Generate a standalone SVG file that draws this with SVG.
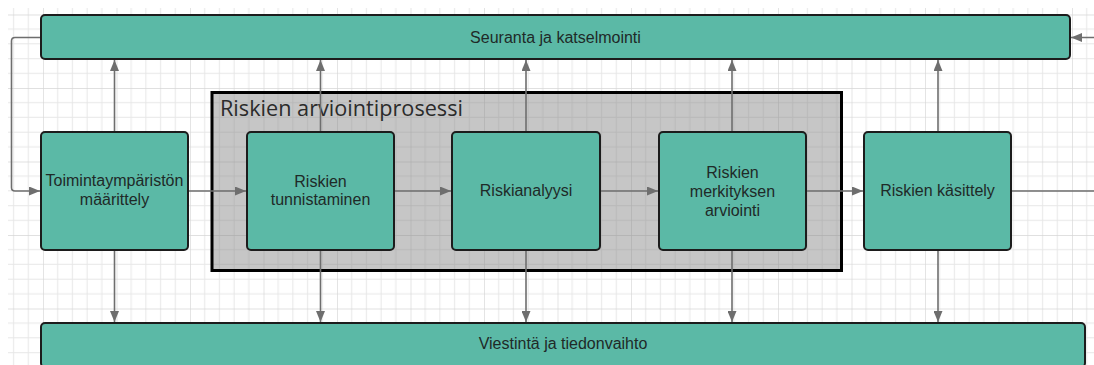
<svg xmlns="http://www.w3.org/2000/svg" width="1094" height="365" viewBox="0 0 1094 365">
  <style>
    .box { fill: #5bb9a6; stroke: #1c1c1c; stroke-width: 2; }
    .lbl { font-family: "Liberation Sans", Arial, sans-serif; font-size: 16px; fill: #1f2a28; text-anchor: middle; }
    .conn { fill: none; stroke: #6e6e6e; stroke-width: 1.6; }
    .minor { stroke: #e7e7e7; stroke-width: 1; }
    .major { stroke: #d6d6d6; stroke-width: 1.3; }
  </style>
  <defs>
    <pattern id="grid" x="190" y="88" width="73.5" height="73.5" patternUnits="userSpaceOnUse">
      <path class="minor" d="M14.7 0V73.5M29.4 0V73.5M44.1 0V73.5M58.8 0V73.5M0 14.7H73.5M0 29.4H73.5M0 44.1H73.5M0 58.8H73.5"/>
      <path class="major" d="M0 0V73.5M0 0H73.5"/>
    </pattern>
    <marker id="arr" markerUnits="userSpaceOnUse" markerWidth="11" markerHeight="9" refX="11" refY="4.5" orient="auto">
      <path d="M0 0L11 4.5L0 9z" fill="#6e6e6e"/>
    </marker>
  </defs>
  <rect width="1094" height="365" fill="#ffffff"/>
  <rect x="8" y="8" width="1086" height="357" fill="url(#grid)"/>

  <g id="process">
    <rect x="212" y="92.5" width="629.5" height="178" fill="#808080" fill-opacity="0.45" stroke="#000" stroke-width="3"/>
    <text x="220" y="116" font-family="'Open Sans', 'Noto Sans', sans-serif" font-size="21" textLength="243" lengthAdjust="spacingAndGlyphs" fill="#2b2b2b">Riskien arviointiprosessi</text>
  </g>

  <g id="connectors">
    <path class="conn" d="M41 37.5H15Q11.5 37.5 11.5 41V187.5Q11.5 191 15 191H40" marker-end="url(#arr)"/>
    <path class="conn" d="M188 191H246" marker-end="url(#arr)"/>
    <path class="conn" d="M394 191H451" marker-end="url(#arr)"/>
    <path class="conn" d="M600 191H658" marker-end="url(#arr)"/>
    <path class="conn" d="M806 191H863" marker-end="url(#arr)"/>
    <path class="conn" d="M1011 191H1110V37.5H1071" marker-end="url(#arr)"/>
    <path class="conn" d="M114.5 132V60" marker-end="url(#arr)"/>
    <path class="conn" d="M320.5 132V60" marker-end="url(#arr)"/>
    <path class="conn" d="M526 132V60" marker-end="url(#arr)"/>
    <path class="conn" d="M732 132V60" marker-end="url(#arr)"/>
    <path class="conn" d="M938 132V60" marker-end="url(#arr)"/>
    <path class="conn" d="M114.5 250V322" marker-end="url(#arr)"/>
    <path class="conn" d="M320.5 250V322" marker-end="url(#arr)"/>
    <path class="conn" d="M526 250V322" marker-end="url(#arr)"/>
    <path class="conn" d="M732 250V322" marker-end="url(#arr)"/>
    <path class="conn" d="M938 250V322" marker-end="url(#arr)"/>
  </g>

  <g id="seuranta">
    <rect class="box" x="41" y="15" width="1029" height="44" rx="4"/>
    <text class="lbl" x="555.5" y="42.5">Seuranta ja katselmointi</text>
  </g>
  <g id="viestinta">
    <rect class="box" x="41" y="323" width="1044" height="44" rx="4"/>
    <text class="lbl" x="563" y="349">Viestintä ja tiedonvaihto</text>
  </g>
  <g id="toimintaymparisto">
    <rect class="box" x="41" y="132" width="147" height="118" rx="4"/>
    <text class="lbl" x="114.5" y="186">Toimintaympäristön</text>
    <text class="lbl" x="114.5" y="205">määrittely</text>
  </g>
  <g id="tunnistaminen">
    <rect class="box" x="247" y="132" width="147" height="118" rx="4"/>
    <text class="lbl" x="320.5" y="186.5">Riskien</text>
    <text class="lbl" x="320.5" y="205">tunnistaminen</text>
  </g>
  <g id="analyysi">
    <rect class="box" x="452" y="132" width="148" height="118" rx="4"/>
    <text class="lbl" x="526" y="196">Riskianalyysi</text>
  </g>
  <g id="merkitys">
    <rect class="box" x="659" y="132" width="147" height="118" rx="4"/>
    <text class="lbl" x="732.5" y="177.5">Riskien</text>
    <text class="lbl" x="732.5" y="196.5">merkityksen</text>
    <text class="lbl" x="732.5" y="215.5">arviointi</text>
  </g>
  <g id="kasittely">
    <rect class="box" x="864" y="132" width="147" height="118" rx="4"/>
    <text class="lbl" x="937.5" y="196">Riskien käsittely</text>
  </g>
</svg>
